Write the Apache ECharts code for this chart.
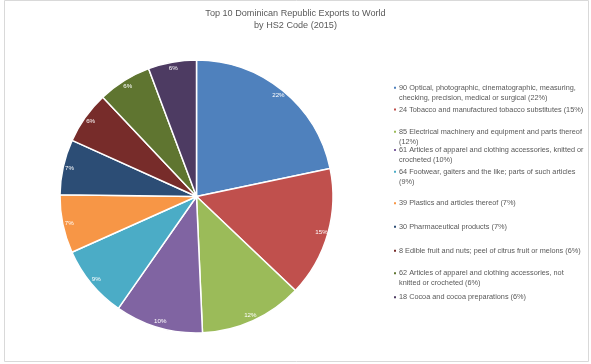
<!DOCTYPE html>
<html>
<head>
<meta charset="utf-8">
<script src="https://cdn.jsdelivr.net/npm/echarts@6/dist/echarts.min.js"></script>
<style>html,body{margin:0;padding:0;background:#fff}#c{width:591px;height:364px}</style>
</head>
<body>
<div id="c"></div>
<script>
var titleText = 'Top 10 Dominican Republic Exports to World\nby HS2 Code (2015)';
var categories = [
  '90 Optical, photographic, cinematographic, measuring, checking, precision, medical or surgical',
  '24 Tobacco and manufactured tobacco substitutes',
  '85 Electrical machinery and equipment and parts thereof',
  '61 Articles of apparel and clothing accessories, knitted or crocheted',
  '64 Footwear, gaiters and the like; parts of such articles',
  '39 Plastics and articles thereof',
  '30 Pharmaceutical products',
  '8 Edible fruit and nuts; peel of citrus fruit or melons',
  '62 Articles of apparel and clothing accessories, not knitted or crocheted',
  '18 Cocoa and cocoa preparations'
];
var values = [21.7, 15.4, 12.2, 10.4, 8.6, 6.9, 6.55, 6.2, 6.35, 5.7];
var colors = ['#4F81BD', '#C0504D', '#9BBB59', '#8064A2', '#4BACC6', '#F79646', '#2C4D75', '#772C2A', '#5F7530', '#4D3B62'];

// legend layout: first-line centre y, and number of words on the first line (0 = single line)
var legendCenters = [87.7, 109.5, 131.7, 150, 171.7, 203.3, 226.7, 250.7, 273.3, 297.3];
var wrapAt = [5, 0, 8, 9, 10, 0, 0, 0, 8, 0];

var FONT = '"Liberation Sans", Arial, sans-serif';
var total = values.reduce(function (a, b) { return a + b; }, 0);
var pct = {};
var idx = {};
categories.forEach(function (n, i) { pct[n] = Math.round(values[i] / total * 100); idx[n] = i; });

var data = categories.map(function (n, i) { return { name: n, value: values[i] }; });

var LH = 10;
var legends = categories.map(function (n, i) {
  return {
    data: [n],
    orient: 'vertical',
    left: 392,
    top: wrapAt[i] ? legendCenters[i] - 1.5 * LH : legendCenters[i] - LH / 2,
    padding: 0,
    itemWidth: 4,
    itemHeight: 4,
    icon: 'rect',
    selectedMode: false,
    formatter: function (name) {
      var full = name + ' (' + pct[name] + '%)';
      var k = wrapAt[idx[name]];
      if (!k) return full;
      var w = full.split(' ');
      return '\n' + w.slice(0, k).join(' ') + '\n' + w.slice(k).join(' ');
    },
    textStyle: {
      fontFamily: FONT, fontSize: 7.3, lineHeight: LH, color: '#595959',
      padding: [0, 0, 0, -3]
    }
  };
});

var chart = echarts.init(document.getElementById('c'), null, { renderer: 'canvas' });
chart.setOption({
  backgroundColor: '#fff',
  animation: false,
  color: colors,
  title: {
    text: titleText,
    left: 'center',
    top: 7,
    padding: 0,
    textStyle: { fontFamily: FONT, fontSize: 9.1, lineHeight: 12, fontWeight: 'normal', color: '#595959' }
  },
  graphic: [{
    type: 'rect',
    shape: { x: 4.5, y: 0.5, width: 584, height: 361 },
    style: { fill: 'none', stroke: '#d9d9d9', lineWidth: 1 },
    silent: true
  }],
  legend: legends,
  series: [{
    type: 'pie',
    center: [196.5, 196.5],
    radius: [0, 136.5],
    startAngle: 90,
    clockwise: true,
    data: data,
    label: { show: false },
    labelLine: { show: false },
    itemStyle: { borderColor: '#fff', borderWidth: 1.5 },
    emphasis: { disabled: true }
  }, {
    type: 'pie',
    center: [196.5, 196.5],
    radius: [118, 136],
    startAngle: 90,
    clockwise: true,
    data: data,
    silent: true,
    legendHoverLink: false,
    itemStyle: { color: 'rgba(0,0,0,0)', borderWidth: 0 },
    label: {
      show: true, position: 'inside', fontFamily: FONT, fontSize: 6.2, color: '#fff',
      formatter: function (p) { return pct[p.name] + '%'; }
    },
    labelLine: { show: false },
    emphasis: { disabled: true }
  }]
});
</script>
</body>
</html>
